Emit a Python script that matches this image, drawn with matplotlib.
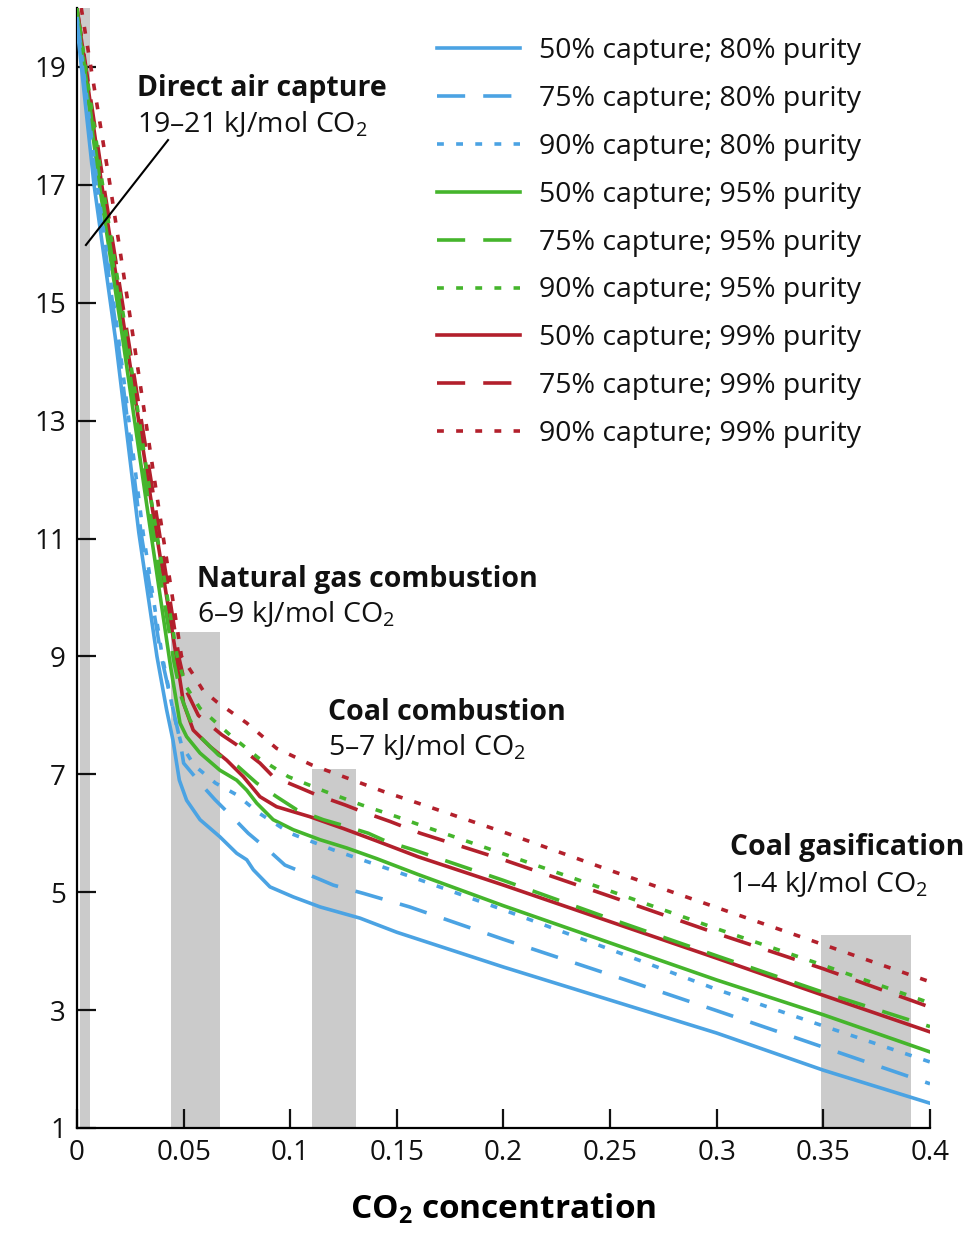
import matplotlib.pyplot as plt

plt.rcParams['font.family'] = ['Open Sans', 'DejaVu Sans']
plt.rcParams['mathtext.fontset'] = 'custom'
plt.rcParams['mathtext.rm'] = 'Open Sans'
plt.rcParams['mathtext.it'] = 'Open Sans:italic'
plt.rcParams['mathtext.bf'] = 'Open Sans:bold'

# 50 / 75 / 90 % capture at 80 % purity (blue)
x_b50 = [0, 0.008, 0.018, 0.029, 0.0375, 0.042, 0.045, 0.048, 0.0514, 0.0577, 0.067, 0.0749, 0.0796, 0.0827,
         0.0905, 0.1014, 0.114, 0.1327, 0.15, 0.2, 0.25, 0.3, 0.35, 0.4]
y_b50 = [19.7, 17.0, 14.4, 11.1, 9.0, 8.1, 7.58, 6.9, 6.56, 6.23, 5.94, 5.66, 5.55, 5.38,
         5.09, 4.92, 4.75, 4.56, 4.32, 3.73, 3.17, 2.61, 1.98, 1.42]
x_b75 = [0, 0.009, 0.019, 0.030, 0.0395, 0.0444, 0.0483, 0.050, 0.0592, 0.0647, 0.0741, 0.0803, 0.0905, 0.0975,
         0.1124, 0.1202, 0.1343, 0.156, 0.2, 0.25, 0.3, 0.35, 0.4]
y_b75 = [19.8, 17.0, 14.4, 11.1, 9.0, 8.21, 7.58, 7.19, 6.79, 6.57, 6.23, 6.0, 5.69, 5.46,
         5.24, 5.12, 4.98, 4.75, 4.2, 3.6, 2.99, 2.37, 1.75]
x_b90 = [0, 0.0095, 0.0195, 0.031, 0.040, 0.0455, 0.049, 0.055, 0.065, 0.075, 0.085, 0.1, 0.12, 0.14, 0.16,
         0.2, 0.25, 0.3, 0.35, 0.4]
y_b90 = [19.85, 17.0, 14.4, 11.1, 9.0, 8.0, 7.5, 7.15, 6.85, 6.65, 6.35, 6.0, 5.72, 5.47, 5.22,
         4.7, 4.03, 3.35, 2.73, 2.12]

# 95 % purity (green)
x_g50 = [0, 0.0105, 0.021, 0.033, 0.044, 0.0483, 0.0514, 0.0577, 0.067, 0.0749, 0.0796, 0.0843, 0.092, 0.1014,
         0.114, 0.1265, 0.1405, 0.16, 0.2, 0.25, 0.3, 0.35, 0.4]
y_g50 = [19.9, 17.0, 14.5, 11.5, 8.8, 7.87, 7.64, 7.36, 7.07, 6.9, 6.73, 6.51, 6.23, 6.06,
         5.89, 5.75, 5.57, 5.3, 4.77, 4.14, 3.51, 2.92, 2.29]
x_g75 = [0, 0.011, 0.022, 0.034, 0.0455, 0.049, 0.053, 0.0577, 0.0663, 0.0756, 0.0843, 0.0936, 0.103, 0.1155,
         0.1241, 0.1366, 0.1452, 0.1577, 0.2, 0.25, 0.3, 0.35, 0.4]
y_g75 = [19.95, 17.0, 14.5, 11.5, 8.9, 8.3, 7.92, 7.64, 7.33, 7.13, 6.85, 6.62, 6.4, 6.23,
         6.14, 6.0, 5.86, 5.72, 5.2, 4.55, 3.92, 3.3, 2.72]
x_g90 = [0, 0.012, 0.023, 0.035, 0.047, 0.051, 0.0577, 0.0717, 0.085, 0.0991, 0.1163, 0.1335, 0.15, 0.1585,
         0.2, 0.25, 0.3, 0.35, 0.4]
y_g90 = [20.0, 17.0, 14.5, 11.6, 9.0, 8.5, 8.12, 7.67, 7.28, 6.96, 6.71, 6.48, 6.28, 6.17,
         5.65, 5.02, 4.38, 3.76, 3.12]

# 99 % purity (red)
x_r50 = [0, 0.0116, 0.0225, 0.0345, 0.047, 0.050, 0.0545, 0.0624, 0.0702, 0.078, 0.0858, 0.0936, 0.1093,
         0.1249, 0.1405, 0.16, 0.2, 0.25, 0.3, 0.35, 0.4]
y_r50 = [20.0, 17.0, 14.5, 11.7, 8.9, 8.2, 7.75, 7.47, 7.24, 6.96, 6.62, 6.45, 6.28,
         6.08, 5.87, 5.6, 5.12, 4.5, 3.88, 3.25, 2.63]
x_r75 = [0, 0.0125, 0.0235, 0.036, 0.048, 0.0515, 0.0569, 0.0679, 0.0749, 0.0858, 0.092, 0.1046, 0.1124,
         0.1257, 0.1335, 0.1468, 0.161, 0.2, 0.25, 0.3, 0.35, 0.4]
y_r75 = [20.0, 17.0, 14.5, 11.7, 8.95, 8.4, 8.0, 7.67, 7.5, 7.19, 6.96, 6.77, 6.65,
         6.48, 6.37, 6.2, 6.0, 5.55, 4.93, 4.3, 3.7, 3.05]
x_r90 = [0.002, 0.0155, 0.026, 0.038, 0.049, 0.054, 0.059, 0.0655, 0.0796, 0.0936, 0.11, 0.1272, 0.1436, 0.16,
         0.2, 0.25, 0.3, 0.35, 0.4]
y_r90 = [20.0, 17.0, 14.5, 11.6, 9.0, 8.72, 8.43, 8.23, 7.87, 7.44, 7.16, 6.93, 6.71, 6.51,
         6.02, 5.37, 4.74, 4.11, 3.48]

labels = ['50% capture; 80% purity', '75% capture; 80% purity', '90% capture; 80% purity',
          '50% capture; 95% purity', '75% capture; 95% purity', '90% capture; 95% purity',
          '50% capture; 99% purity', '75% capture; 99% purity', '90% capture; 99% purity']

# source ranges (gray bars): concentration span and energy top
band_lo = [0.0012, 0.044, 0.110, 0.349]
band_hi = [0.006, 0.067, 0.131, 0.391]
band_top = [20.0, 9.42, 7.09, 4.27]
band_names = ['Direct air capture', 'Natural gas combustion', 'Coal combustion', 'Coal gasification']
band_ranges = ['19–21', '6–9', '5–7', '1–4']

blue = '#4ba3e3'
green = '#45b52c'
red = '#b3202c'
solid = '-'
dash = (0, (7.8, 5.0))
dot = (0, (1.9, 3.4))

series = [
    (x_b50, y_b50, blue, solid), (x_b75, y_b75, blue, dash), (x_b90, y_b90, blue, dot),
    (x_g50, y_g50, green, solid), (x_g75, y_g75, green, dash), (x_g90, y_g90, green, dot),
    (x_r50, y_r50, red, solid), (x_r75, y_r75, red, dash), (x_r90, y_r90, red, dot),
]

fig = plt.figure(figsize=(9.72, 12.36), dpi=100)
ax = fig.add_axes([0.0792, 0.0874, 0.8776, 0.9061])

for lo, hi, top in zip(band_lo, band_hi, band_top):
    ax.bar(lo, top - 1, width=hi - lo, bottom=1, align='edge', color='#cbcbcb', zorder=1)

handles = []
for i, (xs, ys, c, ls) in enumerate(series):
    # red underneath, blue on top
    h, = ax.plot(xs, ys, color=c, linestyle=ls, lw=2.6, zorder=3 - (i // 3) * 0.1)
    handles.append(h)

ax.set_xlim(0, 0.4)
ax.set_ylim(1, 20)
ax.set_xticks([0, 0.05, 0.1, 0.15, 0.2, 0.25, 0.3, 0.35, 0.4])
ax.set_xticklabels(['0', '0.05', '0.1', '0.15', '0.2', '0.25', '0.3', '0.35', '0.4'])
ax.set_yticks(range(1, 20, 2))
ax.tick_params(direction='in', length=14, width=1.6, labelsize=20, pad=8, colors='#111111')
for s in ['top', 'right']:
    ax.spines[s].set_visible(False)
for s in ['left', 'bottom']:
    ax.spines[s].set_linewidth(1.6)
ax.set_xlabel(r'CO$_\mathbf{2}$ concentration', fontsize=24, fontweight='bold', labelpad=18)

# annotations: (x, y baseline of bold line, y baseline of second line)
pos = [(0.0281, 18.51, 17.90), (0.0563, 10.18, 9.585), (0.1177, 7.92, 7.33), (0.3062, 5.63, 5.0)]
for name, rng, (tx, ty1, ty2) in zip(band_names, band_ranges, pos):
    ax.text(tx, ty1, name, fontsize=20.5, fontweight='bold', va='baseline', color='#111111')
    ax.text(tx, ty2, rng + ' kJ/mol CO$_2$', fontsize=20.5, va='baseline', color='#111111')
ax.plot([0.0427, 0.0042], [17.76, 15.98], color='black', lw=1.5, zorder=5)

leg = ax.legend(handles, labels, loc='upper left', bbox_to_anchor=(0.422, 0.9743), frameon=False,
                fontsize=20.5, handlelength=2.9, handletextpad=0.7, labelspacing=0.70,
                borderaxespad=0, borderpad=0)
for t in leg.get_texts():
    t.set_color('#111111')

fig.savefig('out.png', dpi=100)
